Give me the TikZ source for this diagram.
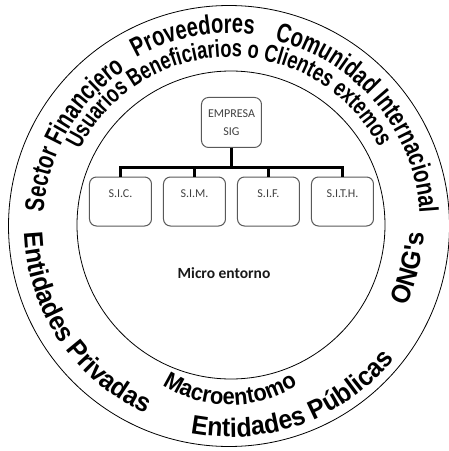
\documentclass[tikz,border=0pt]{standalone}
\usepackage{fontspec}
\usetikzlibrary{positioning,matrix,decorations.text}
\newfontfamily\boxfont{Carlito}
\newfontfamily\arcwide{Liberation Sans Bold}[FakeStretch=0.93]
\newfontfamily\arcnarrow{Liberation Sans Bold}[FakeStretch=0.745]
\newcommand\outerarc{\fontsize{27pt}{30pt}\selectfont\arcnarrow}
\newcommand\lowerarc{\fontsize{26.7pt}{30pt}\selectfont\arcwide}
\newcommand\userarc{\fontsize{24.5pt}{28pt}\selectfont\arcnarrow}
\newcommand\macroarc{\fontsize{23.5pt}{28pt}\selectfont\arcwide}
\tikzset{
  ring/.style={draw, line width=0.8pt},
  arctext/.style={decorate, decoration={text along path, text align=center, text={#1}}},
  subsys/.style={
    rectangle,
    draw=black!65,
    line width=1pt,
    rounded corners=7pt,
    fill=white,
    minimum width=62pt,
    inner sep=4pt,
    text height=16pt,
    text depth=25pt,
    font=\boxfont\fontsize{12pt}{14pt}\selectfont,
    text=black!75,
    anchor=center
  },
  empbox/.style={
    subsys,
    minimum width=60pt,
    minimum height=50pt,
    text height=,
    text depth=,
    align=center,
    font=\boxfont\fontsize{12pt}{18pt}\selectfont
  },
  tree/.style={draw, line width=3pt}
}
\begin{document}
\begin{tikzpicture}[x=1pt, y=1pt]
  \useasboundingbox (-230,-226) rectangle (219,225);
  \draw[ring] (-1,-1) circle[radius=220.5];
  \draw[ring] (1,0) circle[radius=154];

  \matrix [
    matrix of nodes,
    column sep=11pt,
    nodes={subsys}
  ] (S) at (1.5,23.5)
  { S.I.C. & S.I.M. & S.I.F. & S.I.T.H. \\
  };
  \node[empbox, above=25pt of S] (emp) {EMPRESA\\SIG};
  \node[font=\boxfont\bfseries\fontsize{15.5pt}{18pt}\selectfont, text=black!90] (micro) at (-6,-48) {Micro entorno};

  \path (emp.south) ++(0,-20) coordinate (bar);
  \foreach \n in {1,...,4}
    \draw[tree] (emp.south) -- (bar) -| (S-1-\n.north);

  \path[arctext={|\outerarc|Sector Financiero}] (200:187) arc[start angle=200, end angle=100, radius=187];
  \path[arctext={|\outerarc|Proveedores}] (131:192) arc[start angle=131, end angle=71, radius=192];
  \path[arctext={|\outerarc|Comunidad Internacional}] (85:190) arc[start angle=85, end angle=-5, radius=190];
  \path[arctext={|\userarc|Usuarios Beneficiarios o Clientes extemos}] (160.5:168) arc[start angle=160.5, end angle=20.5, radius=168];
  \path[arctext={|\lowerarc|Entidades Privadas}] (170:206) arc[start angle=170, end angle=258, radius=206];
  \path[arctext={|\lowerarc|Entidades Públicas}] (250:212) arc[start angle=250, end angle=330, radius=212];
  \path[arctext={|\lowerarc|ONG's}] (-35:194) arc[start angle=-35, end angle=8, radius=194];
  \path[arctext={|\macroarc|Macroentomo}, shift={(0,-55)}] (230:125) arc[start angle=230, end angle=310, radius=125];
\end{tikzpicture}
\end{document}
